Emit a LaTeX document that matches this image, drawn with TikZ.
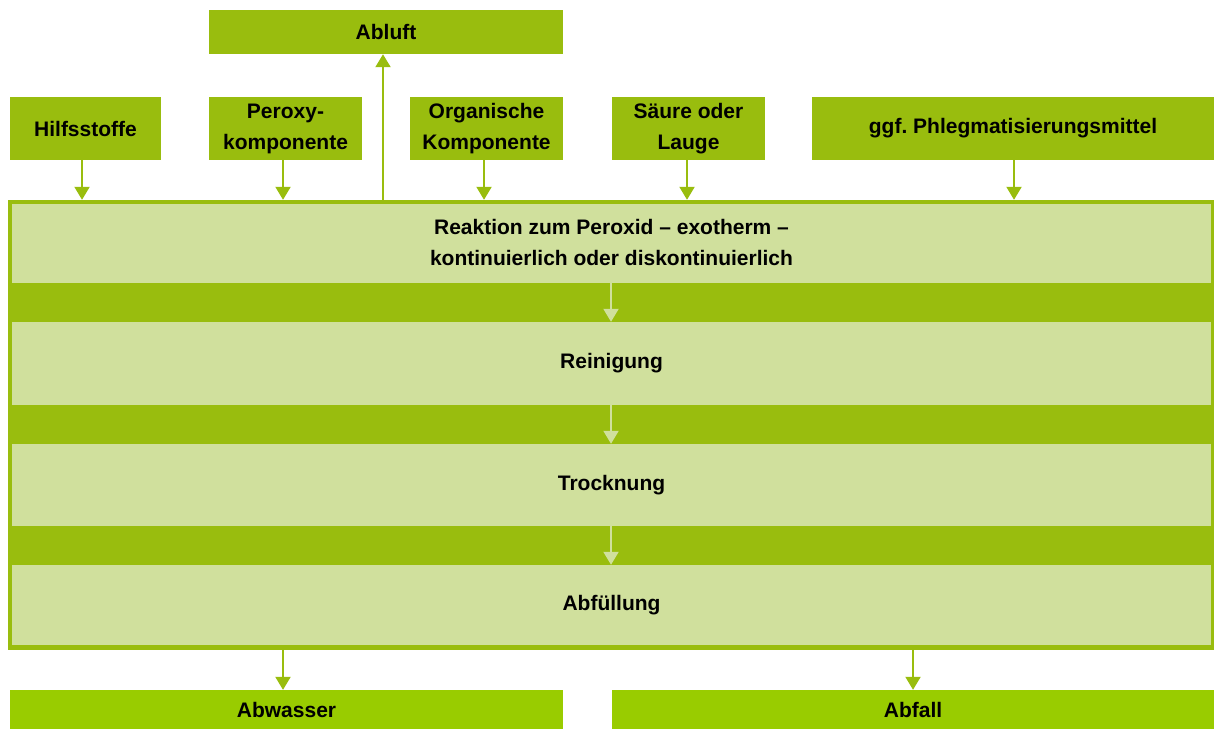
\documentclass[tikz,border=0pt]{standalone}
\usepackage{fontspec}
\setmainfont{Liberation Sans}
\usetikzlibrary{arrows.meta}
\frenchspacing
\definecolor{leaf}{RGB}{153,189,14}
\definecolor{leafbright}{RGB}{153,204,0}
\definecolor{pale}{RGB}{208,224,157}
\begin{document}
\begin{tikzpicture}[x=1pt,y=-1pt,
  txt/.style={font=\bfseries\fontsize{21}{31}\selectfont, align=center, text=black},
  inbox/.style={txt, fill=leaf, inner sep=0pt},
  outbox/.style={txt, fill=leafbright, inner sep=0pt},
  stage/.style={txt, fill=pale, inner sep=0pt, minimum width=1199pt},
  flow/.style={leaf, line width=2pt, -{Triangle[width=15pt,length=13pt]}},
  innerflow/.style={pale, line width=2pt, -{Triangle[width=15pt,length=13pt]}}]
\useasboundingbox (0,0) rectangle (1214,729);

% process block
\node[fill=leaf, inner sep=0pt, minimum width=1206pt, minimum height=450pt] (proc) at (611,425) {};
\node[stage, minimum height=79pt] (s1) at (611.5,243.5) {\raisebox{1pt}{\begin{tabular}{@{}c@{}}Reaktion zum Peroxid -- exotherm --\\kontinuierlich oder diskontinuierlich\end{tabular}}};
\node[stage, minimum height=83pt] (s2) at (611.5,363.5) {Reinigung};
\node[stage, minimum height=82pt] (s3) at (611.5,485) {Trocknung};
\node[stage, minimum height=80pt] (s4) at (611.5,605) {Abfüllung};

% inputs
\node[inbox, minimum width=151pt, minimum height=63pt] (hilf) at (85.5,128.5) {Hilfsstoffe};
\node[inbox, minimum width=153pt, minimum height=63pt] (perox) at (285.5,128.5) {Peroxy-\\komponente};
\node[inbox, minimum width=153pt, minimum height=63pt] (org) at (486.5,128.5) {Organische\\Komponente};
\node[inbox, minimum width=153pt, minimum height=63pt] (saeure) at (688.5,128.5) {Säure oder\\Lauge};
\node[inbox, minimum width=402pt, minimum height=63pt] (phleg) at (1013,128.5) {ggf. Phlegmatisierungsmittel};

% outputs
\node[inbox, minimum width=354pt, minimum height=44pt] (abluft) at (386,32) {Abluft};
\node[outbox, minimum width=553pt, minimum height=39pt] (abw) at (286.5,709.5) {Abwasser};
\node[outbox, minimum width=602pt, minimum height=39pt] (abf) at (913,709.5) {Abfall};

% connector start points
\coordinate (cHilf) at (82,160);
\coordinate (cPerox) at (283,160);
\coordinate (cOrg) at (484,160);
\coordinate (cSaeure) at (687,160);
\coordinate (cPhleg) at (1014,160);
\coordinate (cAbluft) at (383,200);
\coordinate (cAbw) at (283,650);
\coordinate (cAbf) at (913,650);
\coordinate (cS1) at (611,283);
\coordinate (cS2) at (611,405);
\coordinate (cS3) at (611,526);

\draw[flow] (cHilf) -- (cHilf |- proc.north);
\draw[flow] (cPerox) -- (cPerox |- proc.north);
\draw[flow] (cOrg) -- (cOrg |- proc.north);
\draw[flow] (cSaeure) -- (cSaeure |- proc.north);
\draw[flow] (cPhleg) -- (cPhleg |- proc.north);
\draw[flow] (cAbluft) -- (cAbluft |- abluft.south);
\draw[flow] (cAbw) -- (cAbw |- abw.north);
\draw[flow] (cAbf) -- (cAbf |- abf.north);

\draw[innerflow] (cS1) -- (cS1 |- s2.north);
\draw[innerflow] (cS2) -- (cS2 |- s3.north);
\draw[innerflow] (cS3) -- (cS3 |- s4.north);
\end{tikzpicture}
\end{document}
